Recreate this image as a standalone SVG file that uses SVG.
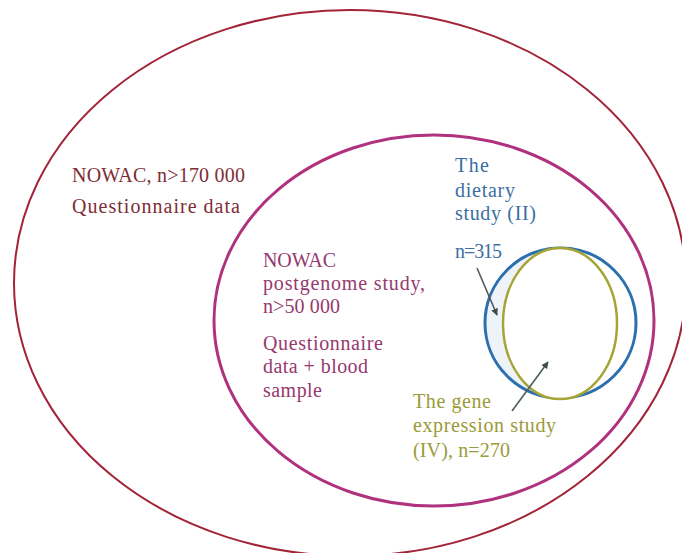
<svg xmlns="http://www.w3.org/2000/svg" width="682" height="553" viewBox="0 0 682 553">
<style>
text{font-family:"Liberation Serif","DejaVu Serif",serif;font-size:20px}
.outer{fill:#7e2d35}
.inner{fill:#96396e}
.blue{fill:#3a6ea3}
.olive{fill:#9a9a38}
.conn{stroke:#4f5c5e;stroke-width:1.6;fill:none}
</style>
<defs>
<marker id="ah" viewBox="0 0 10 10" refX="9" refY="5" markerWidth="7" markerHeight="7" orient="auto" markerUnits="userSpaceOnUse">
<path d="M0,0 L10,5 L0,10 z" fill="#3f4a4c"/>
</marker>
<clipPath id="leftHalf"><rect x="480" y="240" width="70" height="170"/></clipPath>
</defs>
<rect width="682" height="553" fill="#ffffff"/>
<g id="nowac">
<ellipse cx="350" cy="283" rx="336" ry="273" fill="none" stroke="#a32338" stroke-width="2"/>
<text class="outer" x="72" y="182" textLength="173">NOWAC, n&gt;170 000</text>
<text class="outer" x="72" y="213" textLength="168">Questionnaire data</text>
</g>
<g id="postgenome">
<ellipse cx="434" cy="320.5" rx="220" ry="185.5" fill="none" stroke="#b0317e" stroke-width="3"/>
<text class="inner" x="263" y="267" textLength="73">NOWAC</text>
<text class="inner" x="263" y="290" textLength="162">postgenome study,</text>
<text class="inner" x="263" y="313" textLength="77">n&gt;50 000</text>
<text class="inner" x="263" y="350" textLength="120">Questionnaire</text>
<text class="inner" x="263" y="373" textLength="105">data + blood</text>
<text class="inner" x="263" y="397" textLength="59">sample</text>
</g>
<g id="dietary">
<ellipse cx="560.5" cy="323" rx="75.5" ry="75" fill="#eef3f9" stroke="none" clip-path="url(#leftHalf)"/>
<ellipse cx="560.5" cy="323" rx="75.5" ry="75" fill="none" stroke="#2c6fae" stroke-width="3"/>
<text class="blue" x="455" y="172" textLength="34">The</text>
<text class="blue" x="455" y="197" textLength="60">dietary</text>
<text class="blue" x="455" y="220" textLength="81">study (II)</text>
<text class="blue" x="455" y="258" textLength="47">n=315</text>
</g>
<g id="geneexpression">
<ellipse cx="560" cy="323.5" rx="57" ry="75.5" fill="#ffffff" stroke="#a5a536" stroke-width="2.5"/>
<text class="olive" x="413" y="408" textLength="78">The gene</text>
<text class="olive" x="413" y="432" textLength="143">expression study</text>
<text class="olive" x="413" y="457" textLength="97">(IV), n=270</text>
</g>
<g id="connectors">
<line class="conn" x1="477" y1="268" x2="497" y2="315" marker-end="url(#ah)"/>
<line class="conn" x1="512" y1="411" x2="548" y2="362" marker-end="url(#ah)"/>
</g>
</svg>
